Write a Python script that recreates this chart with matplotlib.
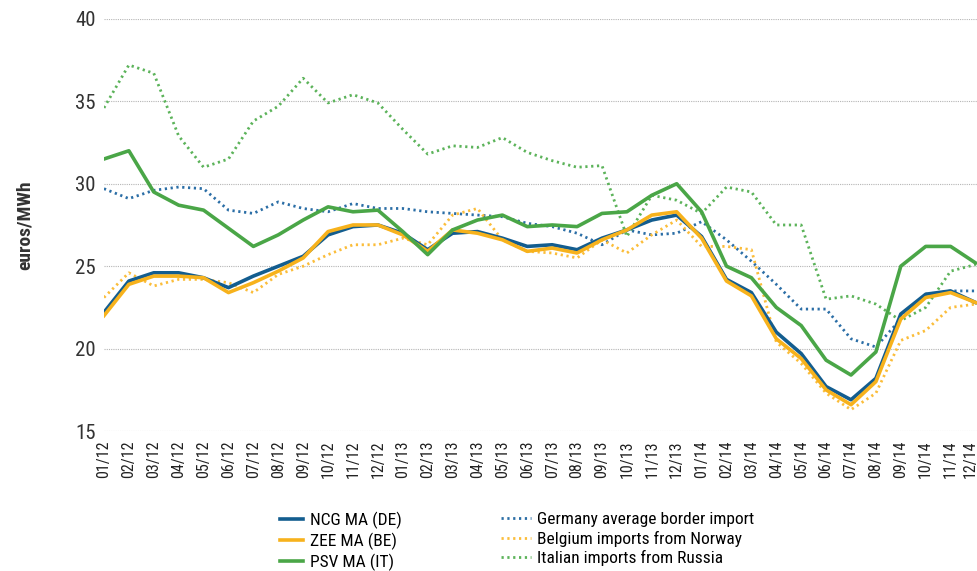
import matplotlib
matplotlib.use('Agg')
import matplotlib.pyplot as plt
import matplotlib.transforms as mtransforms

# Monthly gas prices and import prices, 01/2012 - 12/2014
months = ['01/12', '02/12', '03/12', '04/12', '05/12', '06/12', '07/12', '08/12', '09/12', '10/12', '11/12', '12/12',
          '01/13', '02/13', '03/13', '04/13', '05/13', '06/13', '07/13', '08/13', '09/13', '10/13', '11/13', '12/13',
          '01/14', '02/14', '03/14', '04/14', '05/14', '06/14', '07/14', '08/14', '09/14', '10/14', '11/14', '12/14']

ncg_de = [22.2, 24.1, 24.6, 24.6, 24.3, 23.7, 24.4, 25.0, 25.6, 26.9, 27.4, 27.5,
          27.0, 26.0, 27.0, 27.1, 26.7, 26.2, 26.3, 26.0, 26.7, 27.2, 27.8, 28.1,
          26.8, 24.2, 23.4, 21.0, 19.7, 17.7, 16.9, 18.2, 22.1, 23.3, 23.5, 22.8]
zee_be = [22.0, 23.9, 24.4, 24.4, 24.3, 23.4, 24.0, 24.7, 25.5, 27.1, 27.5, 27.5,
          26.9, 25.9, 27.2, 27.0, 26.6, 25.9, 26.1, 25.8, 26.6, 27.2, 28.1, 28.3,
          26.7, 24.1, 23.2, 20.6, 19.4, 17.5, 16.6, 18.0, 21.8, 23.1, 23.4, 22.8]
psv_it = [31.5, 32.0, 29.5, 28.7, 28.4, 27.3, 26.2, 26.9, 27.8, 28.6, 28.3, 28.4,
          27.1, 25.7, 27.2, 27.8, 28.1, 27.4, 27.5, 27.4, 28.2, 28.3, 29.3, 30.0,
          28.3, 25.0, 24.3, 22.5, 21.4, 19.3, 18.4, 19.8, 25.0, 26.2, 26.2, 25.2]
de_border = [29.7, 29.1, 29.6, 29.8, 29.7, 28.4, 28.2, 28.9, 28.5, 28.3, 28.8, 28.5,
             28.5, 28.3, 28.2, 28.1, 28.0, 27.6, 27.4, 27.0, 26.3, 27.2, 26.9, 27.0,
             27.7, 26.6, 25.3, 23.9, 22.4, 22.4, 20.6, 20.1, 21.8, 23.3, 23.5, 23.5]
be_norway = [23.1, 24.6, 23.8, 24.2, 24.2, 24.0, 23.4, 24.5, 25.0, 25.7, 26.3, 26.3,
             26.7, 26.3, 28.1, 28.5, 26.6, 25.9, 25.8, 25.5, 26.6, 25.8, 26.9, 27.8,
             26.2, 26.2, 26.0, 20.4, 19.1, 17.3, 16.3, 17.3, 20.5, 21.1, 22.5, 22.7]
it_russia = [34.6, 37.2, 36.7, 32.9, 31.0, 31.5, 33.8, 34.7, 36.4, 34.9, 35.4, 34.9,
             33.3, 31.8, 32.3, 32.2, 32.8, 31.9, 31.4, 31.0, 31.1, 26.8, 29.3, 29.0,
             28.2, 29.8, 29.5, 27.5, 27.5, 23.0, 23.2, 22.7, 21.7, 22.5, 24.7, 25.1]

plt.rcParams['font.family'] = ['Roboto Condensed', 'Liberation Sans Narrow', 'Liberation Sans', 'DejaVu Sans']

blue = '#135d8f'
yellow = '#f7b21c'
green = '#4aa647'

fig = plt.figure(figsize=(9.78, 5.71), dpi=100)
ax = fig.add_axes([0.1063, 0.245, 0.8937, 0.722])

x = range(len(months))
dots = (0, (0.8, 1.3))
dotted = []
dotted += ax.plot(x, de_border, color='#2b6ea6', lw=2.0, linestyle=dots, label='Germany average border import')
dotted += ax.plot(x, be_norway, color='#fbbd3a', lw=2.0, linestyle=dots, label='Belgium imports from Norway')
dotted += ax.plot(x, it_russia, color='#5cb35a', lw=2.0, linestyle=dots, label='Italian imports from Russia')
solid = []
solid += ax.plot(x, ncg_de, color=blue, lw=2.6, label='NCG MA (DE)')
solid += ax.plot(x, zee_be, color=yellow, lw=2.6, label='ZEE MA (BE)')
solid += ax.plot(x, psv_it, color=green, lw=2.6, label='PSV MA (IT)')

ax.set_xlim(0, 35.1)
ax.set_ylim(15, 40)
ax.set_yticks([15, 20, 25, 30, 35, 40])
ax.set_xticks(list(x))
ax.set_xticklabels(months, rotation=90, fontsize=11.5, color='#222222')
ax.tick_params(axis='y', labelsize=15, colors='#333333', length=0, pad=6)
ax.tick_params(axis='x', length=0, pad=7)
# nudge last label so it stays inside the picture
last = ax.get_xticklabels()[-1]
last.set_transform(last.get_transform() + mtransforms.ScaledTranslation(-5 / 100, 0, fig.dpi_scale_trans))
for s in ax.spines.values():
    s.set_visible(False)
ax.grid(axis='y', color='#b5b5b5', lw=0.8, linestyle=(0, (1, 1)))
ax.set_axisbelow(True)

ax.set_ylabel('euros/MWh', fontsize=14, fontweight='bold', color='#333333', labelpad=30)

leg1 = fig.legend(handles=solid, loc='upper left', bbox_to_anchor=(280 / 978, 1 - 512 / 571),
                  frameon=False, fontsize=12.5, handlelength=1.3, handletextpad=0.4,
                  labelspacing=0.2, borderaxespad=0, borderpad=0)
leg2 = fig.legend(handles=dotted, loc='upper left', bbox_to_anchor=(501 / 978, 1 - 512 / 571),
                  frameon=False, fontsize=12.5, handlelength=1.7, handletextpad=0.4,
                  labelspacing=0.2, borderaxespad=0, borderpad=0)

plt.savefig('out.png', dpi=100)
